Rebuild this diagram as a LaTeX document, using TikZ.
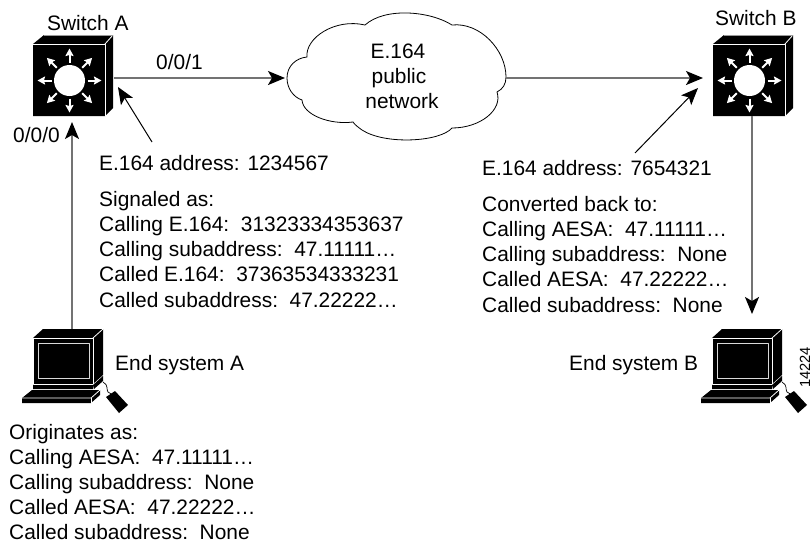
\documentclass[tikz,border=0pt]{standalone}
\usepackage{fontspec}
\setmainfont{Liberation Sans}
\usetikzlibrary{arrows.meta,calc}
\tikzset{
  lbl/.style={inner sep=0pt,anchor=base west,font=\fontsize{20.9}{25.2}\selectfont},
  blocktext/.style={inner sep=0pt,anchor=north west,align=left,font=\fontsize{20.9}{25.2}\selectfont},
  tightblock/.style={inner sep=0pt,anchor=north west,align=left,font=\fontsize{20.9}{24.8}\selectfont},
  grayline/.style={draw=black!55,line width=1.6pt},
  tip/.style={-{Stealth[length=17pt,width=14pt,inset=4pt,color=black]}},
  thin arrow/.style={draw=black,line width=1pt,-{Stealth[length=17pt,width=14pt,inset=4pt]}},
  edge white/.style={draw=white,line width=0.8pt,line join=round},
}
\newcommand{\swicon}[1]{%
 \begin{scope}[shift={(#1)}]
  \fill[black] (0,9)--(11,0)--(80,0)--(72,9)--(72,81)--(0,81)--cycle;
  \fill[black] (72,9)--(80,0)--(80,73)--(72,81)--cycle;
  \draw[edge white] (0,9)--(72,9)--(72,81);
  \draw[edge white] (72,9)--(80,0);
  \draw[black!40,line width=.6pt] (11,0)--(80,0);
  \fill[white] (36.5,45.5) circle (15.5);
  \foreach \a in {0,45,...,315}{
    \draw[white,line width=2pt,-{Stealth[length=7.5pt,width=8pt,inset=1pt]}]
      ($(36.5,45.5)+(\a:18)$)--($(36.5,45.5)+(\a:32)$);
  }
 \end{scope}}
\newcommand{\pcicon}[1]{%
 \begin{scope}[shift={(#1)}]
  \fill[black] (0,9)--(10,0)--(70,0)--(70,46)--(60,55)--(60,60)--(0,60)--cycle;
  \draw[edge white] (0,9)--(60,9)--(60,55)--(0,55)--cycle;
  \draw[edge white] (60,9)--(70,0);
  \draw[edge white,line width=.7pt,draw=black!15] (5,14) rectangle (56,49);
  \fill[black] (60,56)--(70,47)--(70,52)--(61,60)--cycle;
  \fill[black] (-11,69)--(-1,61)--(67,61)--(67,66)--(58,74)--(-11,74)--cycle;
  \draw[edge white] (-11,69)--(58,69)--(67,61);
  \draw[edge white] (58,69)--(58,74);
  \draw[black,line width=.7pt] (70,53) .. controls (76,56) and (73,61) .. (75,63) .. controls (77,65) and (78,64) .. (80,66);
  \fill[black] (73,68)--(82,62)--(95,76)--(86,84)--cycle;
 \end{scope}}
\begin{document}
\begin{tikzpicture}[x=1pt,y=-1pt]
\useasboundingbox (0,0) rectangle (811,542);
\swicon{33,35}
\swicon{713,35}
\pcicon{33,329}
\pcicon{712,329}
\draw[black,line width=.8pt,fill=white] (287,78)
  .. controls (287,66) and (296,58) .. (307,57)
  .. controls (305,38) and (335,18) .. (365,25)
  .. controls (385,7) and (430,11) .. (452,25)
  .. controls (480,22) and (506,50) .. (506,77)
  .. controls (506,84) and (503,89) .. (497,92)
  .. controls (503,110) and (480,128) .. (452,128)
  .. controls (440,142) and (385,145) .. (362,130)
  .. controls (358,127) and (355,125) .. (353,122)
  .. controls (330,125) and (303,115) .. (302,100)
  .. controls (293,97) and (287,88) .. (287,78) -- cycle;
\coordinate (swAe) at (114,78);
\coordinate (cloudW) at (285,78);
\coordinate (cloudE) at (506,78);
\coordinate (swBw) at (703,78);
\coordinate (swAs) at (72,122);
\coordinate (pcAn) at (72,329);
\coordinate (swBs) at (752,116);
\coordinate (pcBn) at (752,314);
\coordinate (addrA) at (152,142);
\coordinate (tipA) at (118,87);
\coordinate (addrB) at (635,153);
\coordinate (tipB) at (698,88);
\draw[grayline,tip] (swAe)--(cloudW);
\draw[grayline,tip] (cloudE)--(swBw);
\draw[grayline,tip] (pcAn)--(swAs);
\draw[grayline,tip] (swBs)--(pcBn);
\draw[thin arrow] (addrA)--(tipA);
\draw[thin arrow] (addrB)--(tipB);
\node[lbl] (swa) at (47,30) {Switch A};
\node[lbl] (swb) at (715,25) {Switch B};
\node[lbl] (l001) at (156,69) {0/0/1};
\node[lbl] (l000) at (13,142) {0/0/0};
\node[lbl,anchor=base] (cl1) at (398,58) {E.164};
\node[lbl,anchor=base] (cl2) at (399,83) {public};
\node[lbl,anchor=base] (cl3) at (402,108) {network};
\node[lbl] (addra) at (99,170) {E.164 address: 1234567};
\node[lbl] (addrb) at (482,175) {E.164 address: 7654321};
\node[blocktext] (siga) at (99,191) {Signaled as:\\Calling E.164:\ \ 31323334353637\\Calling subaddress:\ \ 47.11111…\\Called E.164:\ \ 37363534333231\\Called subaddress:\ \ 47.22222…};
\node[blocktext] (conv) at (482,196) {Converted back to:\\Calling AESA:\ \ 47.11111…\\Calling subaddress:\ \ None\\Called AESA:\ \ 47.22222…\\Called subaddress:\ \ None};
\node[lbl] (esa) at (115,370) {End system A};
\node[lbl] (esb) at (569,370) {End system B};
\node[tightblock] (orig) at (9,424.5) {Originates as:\\Calling AESA:\ \ 47.11111…\\Calling subaddress:\ \ None\\Called AESA:\ \ 47.22222…\\Called subaddress:\ \ None};
\node[inner sep=0pt,rotate=90,anchor=base west,font=\fontsize{14.7}{15}\selectfont] (num) at (810,388) {14224};
\end{tikzpicture}
\end{document}
